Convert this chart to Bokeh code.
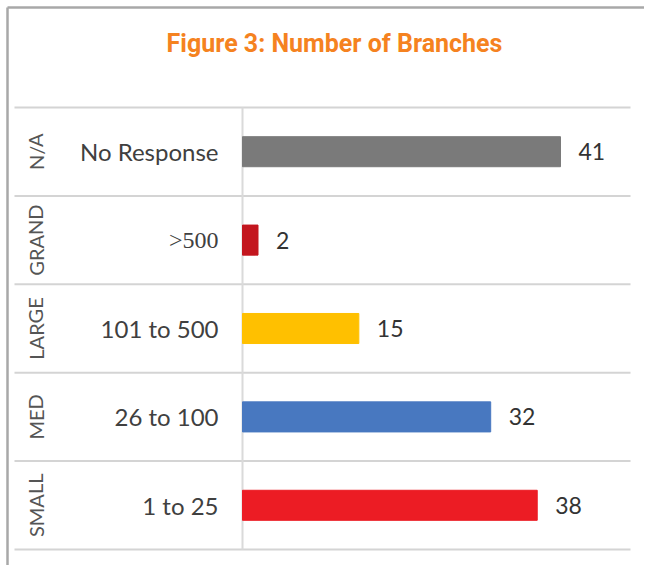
from bokeh.plotting import figure
from bokeh.models import ColumnDataSource, Range1d, Label
from bokeh.core.properties import value
from bokeh.embed import file_html
from bokeh.resources import INLINE

# ---- data ----
groups = ["N/A", "GRAND", "LARGE", "MED", "SMALL"]
categories = ["No Response", ">500", "101 to 500", "26 to 100", "1 to 25"]
counts = [41, 2, 15, 32, 38]
title_text = "Figure 3: Number of Branches"

# ---- styles ----
bar_colors = ["#7a7a7a", "#c3161e", "#ffc000", "#4878c0", "#ec1c24"]
cat_fonts = ["Lato", "Liberation Serif", "Lato", "Lato", "Lato"]

W, H = 644, 565
rows = list(range(len(categories)))
centers = [r + 0.5 for r in rows]

src = ColumnDataSource(dict(
    group=groups, cat=categories, count=counts, y=centers,
    color=bar_colors, font=cat_fonts,
    label=[str(c) for c in counts],
))

# scale: value 0 -> pixel 242, 41 -> pixel 560
pxu = (560 - 242) / 41.0
x0 = -242 / pxu
x1 = x0 + W / pxu
pyu = 88.4
y_top = -107 / pyu
y_bot = y_top + H / pyu

p = figure(width=W, height=H, output_backend="svg", toolbar_location=None,
           x_range=Range1d(x0, x1), y_range=Range1d(y_bot, y_top),
           min_border=0, min_border_left=0, min_border_right=0,
           min_border_top=0, min_border_bottom=0)
p.axis.visible = False
p.grid.visible = False
p.outline_line_color = None
p.background_fill_color = "white"
p.border_fill_color = "white"

# page border (left and top)
bx = (7 - 242) / pxu
by = (7 - 107) / pyu
p.segment(x0=[bx, bx], x1=[bx, x1], y0=[by, by], y1=[y_bot, by],
          line_color="#a8a8a8", line_width=2.5)

# row separators
seps = list(range(len(categories) + 1))
xl = (14 - 242) / pxu
xr = (630 - 242) / pxu
p.segment(x0=[xl] * len(seps), x1=[xr] * len(seps), y0=seps, y1=seps,
          line_color="#d4d4d4", line_width=2)
# vertical axis line
p.segment(x0=[0], x1=[0], y0=[0], y1=[len(categories)], line_color="#dadada", line_width=2)

# bars
p.hbar(y="y", left=0, right="count", height=0.34, color="color", source=src)

# value labels
p.text(x="count", y="y", text="label", source=src, x_offset=18,
       text_align="left", text_baseline="middle", text_font=value("Lato"),
       text_font_size="23px", text_color="#333333")

# category labels
p.text(x=0, y="y", text="cat", source=src, x_offset=-24,
       text_align="right", text_baseline="middle", text_font="font",
       text_font_size="24px", text_color="#404040")

# group labels (rotated)
gx = (35 - 242) / pxu
p.text(x=gx, y="y", text="group", source=src, angle=1.5708,
       text_align="center", text_baseline="middle", text_font=value("Lato"),
       text_font_size="20px", text_color="#555555")

# title
p.add_layout(Label(x=334, y=H - 43, x_units="screen", y_units="screen",
                   text=title_text, text_align="center", text_baseline="middle",
                   text_font="Roboto", text_font_style="bold",
                   text_font_size="25px", text_color="#f58220"))

open("out.html", "w").write(file_html(p, INLINE))
